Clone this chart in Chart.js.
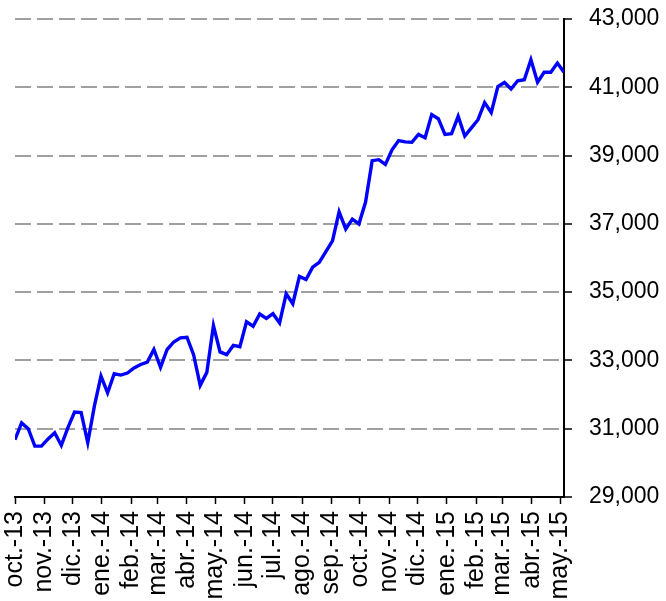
<!DOCTYPE html>
<html>
<head>
<meta charset="utf-8">
<script src="https://cdn.jsdelivr.net/npm/chart.js@4"></script>
<style>
  body { margin: 0; background: #fff; }
  #wrap { width: 666px; height: 601px; }
</style>
</head>
<body>
<div id="wrap"><canvas id="chart" width="666" height="601"></canvas></div>
<script>
// Month tick labels (one per month, starting Oct 2013)
const monthLabels = ['oct.-13', 'nov.-13', 'dic.-13', 'ene.-14', 'feb.-14', 'mar.-14', 'abr.-14',
    'may.-14', 'jun.-14', 'jul.-14', 'ago.-14', 'sep.-14', 'oct.-14', 'nov.-14', 'dic.-14',
    'ene.-15', 'feb.-15', 'mar.-15', 'abr.-15', 'may.-15'];

// Weekly values
const weeklyValues = [
    30680, 31170, 31000, 30490, 30490, 30700, 30880, 30510, 31030, 31490,
    31470, 30590, 31660, 32540, 32050, 32610, 32570, 32630, 32780, 32880,
    32950, 33320, 32800, 33320, 33540, 33660, 33680, 33170, 32270, 32650,
    34020, 33250, 33170, 33440, 33400, 34130, 34000, 34360, 34230, 34370,
    34100, 34950, 34660, 35460, 35370, 35730, 35870, 36190, 36500, 37350,
    36850, 37140, 37000, 37640, 38850, 38880, 38740, 39170, 39440, 39400,
    39390, 39620, 39520, 40200, 40080, 39620, 39640, 40150, 39570, 39810,
    40050, 40550, 40260, 41020, 41140, 40950, 41190, 41220, 41810, 41150,
    41440, 41440, 41710, 41440
];

// Y axis ticks
const yTicks = [29000, 31000, 33000, 35000, 37000, 39000, 41000, 43000];

// Days since the first month for each month tick
const startMs = Date.UTC(2013, 9, 1);
const monthDays = monthLabels.map((l, k) => (Date.UTC(2013, 9 + k, 1) - startMs) / 86400000);

const points = weeklyValues.map((v, i) => ({ x: i * 7, y: v }));

const fontFamily = '"Liberation Sans", Arial, sans-serif';

const ctx = document.getElementById('chart').getContext('2d');
const chart = new Chart(ctx, {
    type: 'line',
    data: {
        datasets: [{
            data: points,
            borderColor: '#0000ff',
            borderWidth: 3.4,
            pointRadius: 0,
            tension: 0,
            fill: false
        }]
    },
    options: {
        responsive: false,
        animation: false,
        layout: { padding: { left: 15, top: 19, right: 0, bottom: 0 } },
        plugins: { legend: { display: false }, tooltip: { enabled: false } },
        scales: {
            x: {
                type: 'linear',
                position: 'bottom',
                min: 0,
                max: (weeklyValues.length - 1) * 7,
                afterBuildTicks: (scale) => {
                    scale.ticks = monthDays.map(d => ({ value: d }));
                },
                afterFit: (scale) => { scale.height = 104; },
                grid: {
                    drawOnChartArea: false,
                    drawTicks: true,
                    tickLength: 7,
                    tickColor: '#000',
                    tickWidth: 1.5
                },
                border: { color: '#000', width: 2 },
                ticks: {
                    autoSkip: false,
                    maxRotation: 90,
                    minRotation: 90,
                    padding: 7,
                    color: '#000',
                    font: { family: fontFamily, size: 25 },
                    callback: (value, index) => monthLabels[index]
                }
            },
            y: {
                position: 'right',
                min: 29000,
                max: 43000,
                afterBuildTicks: (scale) => {
                    scale.ticks = yTicks.map(v => ({ value: v }));
                },
                afterFit: (scale) => {
                    scale.width = 102;
                    // label overflow is handled by the layout padding
                    scale.paddingTop = 0;
                    scale.paddingBottom = 0;
                },
                grid: {
                    color: (c) => (c.tick && c.tick.value === 29000) ? 'rgba(0,0,0,0)' : '#a0a0a0',
                    lineWidth: 2,
                    drawTicks: true,
                    tickLength: 8,
                    tickColor: '#000',
                    tickWidth: 1.5
                },
                border: { color: '#000', width: 2, dash: [16, 6] },
                ticks: {
                    padding: 17,
                    color: '#000',
                    font: { family: fontFamily, size: 23 },
                    callback: (value) => value.toLocaleString('en-US')
                }
            }
        }
    }
});
</script>
</body>
</html>
